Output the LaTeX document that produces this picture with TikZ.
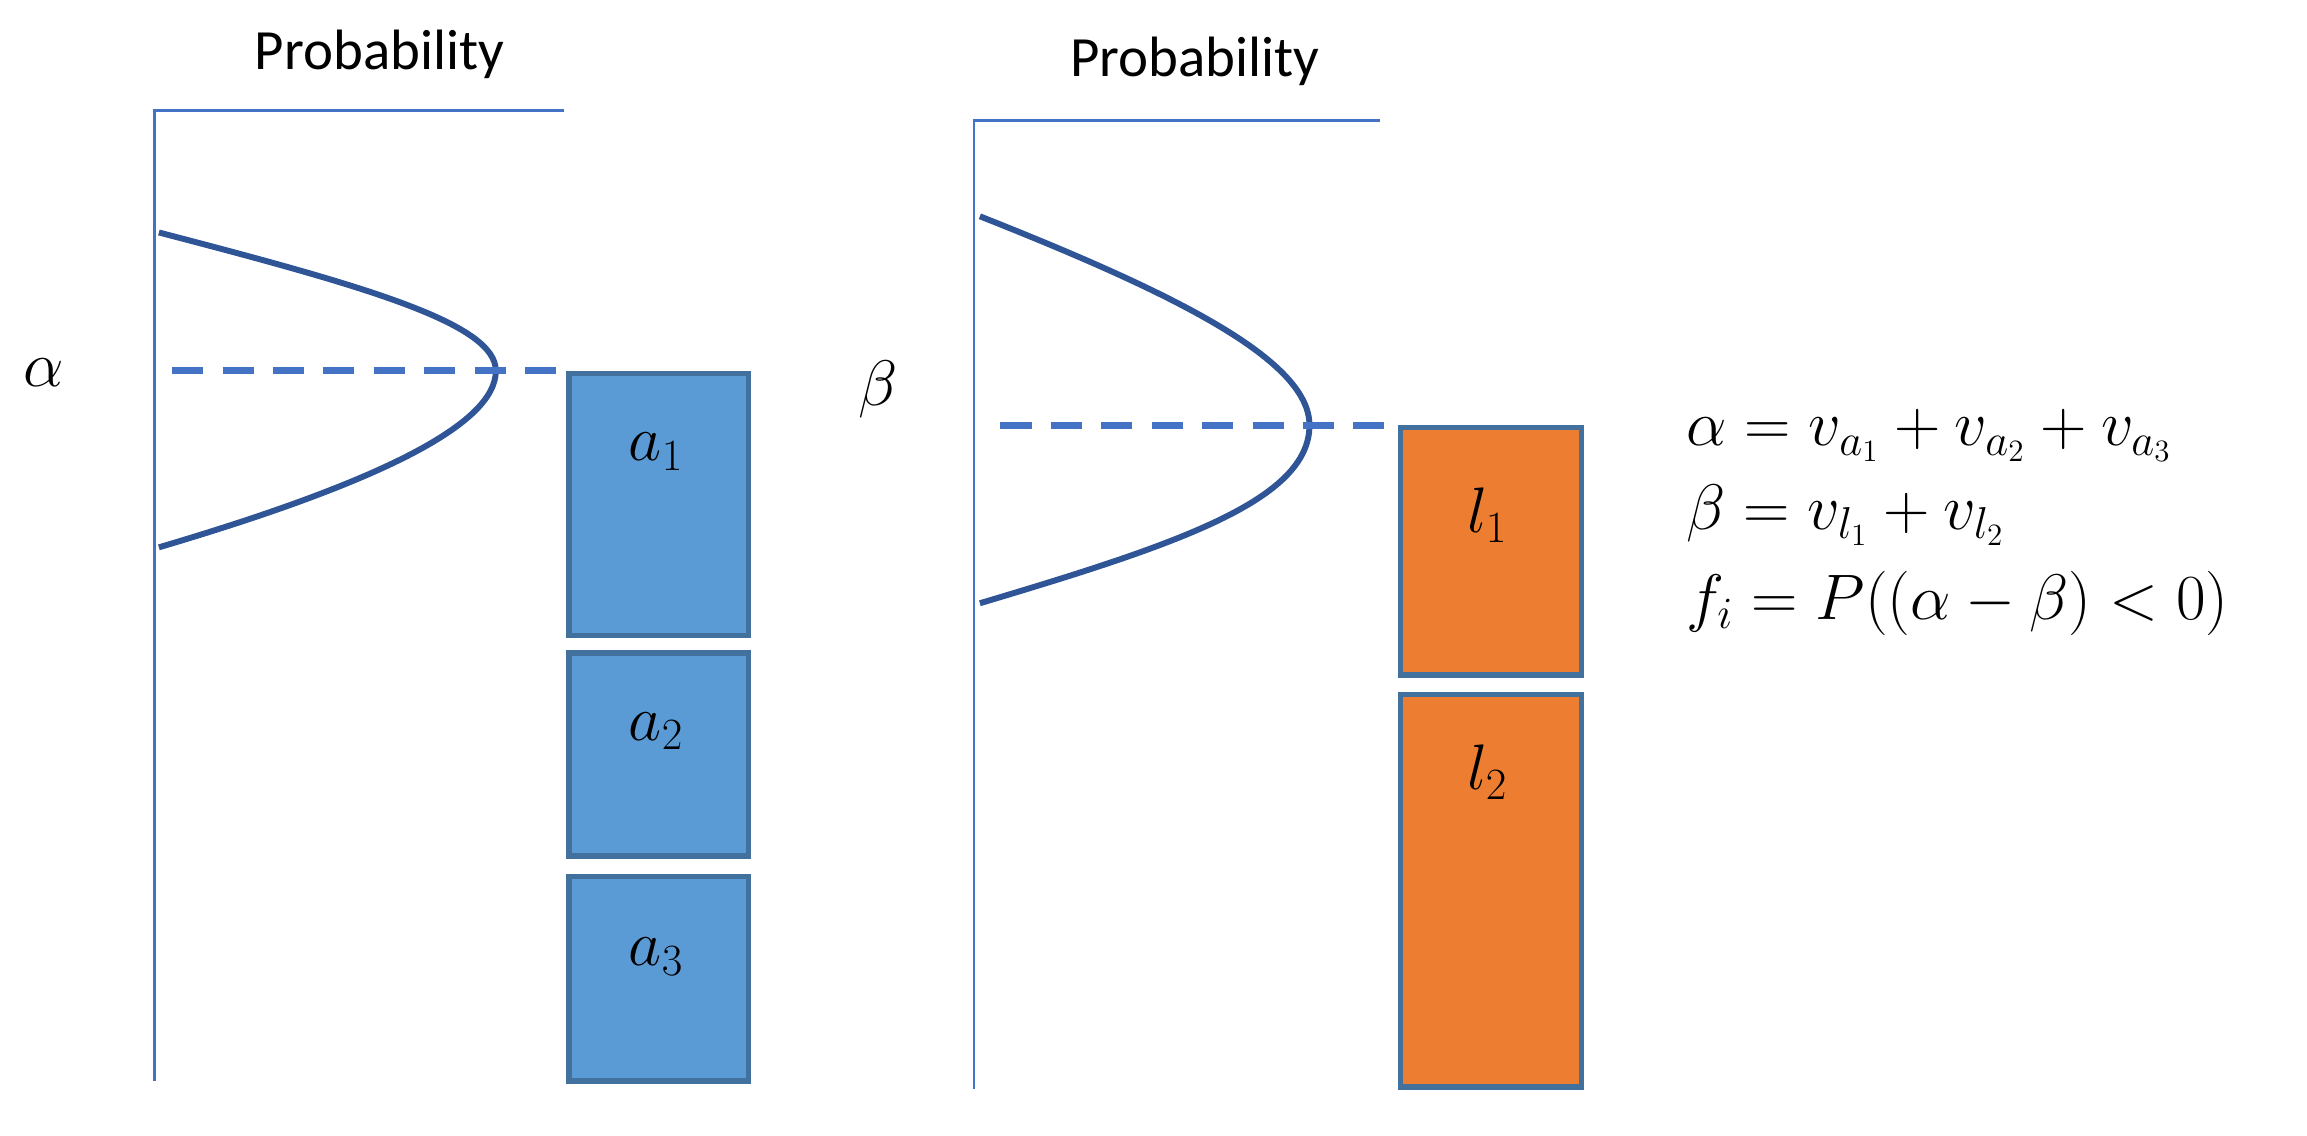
\documentclass[tikz,border=0pt]{standalone}
\usepackage{fontspec}
\setmainfont{Carlito}
\begin{document}
\begin{tikzpicture}[x=0.02cm,y=-0.02cm,
  ax/.style={draw=axc,line width=1.1pt},
  crv/.style={draw=crvc,line width=2.3pt},
  dsh/.style={draw=axc,line width=2.7pt,dash pattern=on 12pt off 7.5pt},
  bbox/.style={draw=bordc,line width=2pt,fill=bluef},
  obox/.style={draw=bordc,line width=2pt,fill=orangef},
  lbl/.style={font=\fontsize{24}{28}\selectfont},
  ttl/.style={font=\fontsize{22}{26}\selectfont}]
\definecolor{axc}{HTML}{4472C4}
\definecolor{crvc}{HTML}{2F5597}
\definecolor{bordc}{HTML}{41719C}
\definecolor{bluef}{HTML}{5B9BD5}
\definecolor{orangef}{HTML}{ED7D31}
\useasboundingbox (0,0) rectangle (1568,772);
% left
\node[ttl] (p1) at (258,37) {Probability};
\draw[ax] (105,735) -- (105,75) -- (383,75);
\draw[crv] (108,158) .. controls (250,195) and (337,220) .. (337,252) .. controls (337,290) and (250,330) .. (108,372);
\coordinate (d1s) at (117,252);
\coordinate (d1e) at (385,252);
\draw[dsh] (d1s) -- (d1e);
\node[bbox,minimum width=122*0.02cm,minimum height=178*0.02cm,anchor=north west] (a1) at (385,252) {};
\node[bbox,minimum width=122*0.02cm,minimum height=138*0.02cm,anchor=north west] (a2) at (385,442) {};
\node[bbox,minimum width=122*0.02cm,minimum height=139*0.02cm,anchor=north west] (a3) at (385,594) {};
\node[lbl] at (446,307) {$a_1$};
\node[lbl] at (446,497) {$a_2$};
\node[lbl] at (446,650) {$a_3$};
\node[lbl] (al) at (30,253) {$\alpha$};
% right
\node[ttl] (p2) at (812,42) {Probability};
\draw[ax] (662,740) -- (662,82) -- (938,82);
\draw[crv] (666,147) .. controls (800,200) and (890,245) .. (890,289) .. controls (890,340) and (800,370) .. (666,410);
\coordinate (d2s) at (680,289);
\coordinate (d2e) at (950,289);
\draw[dsh] (d2s) -- (d2e);
\node[obox,minimum width=123*0.02cm,minimum height=168*0.02cm,anchor=north west] (l1) at (950,289) {};
\node[obox,minimum width=123*0.02cm,minimum height=267*0.02cm,anchor=north west] (l2) at (950,470) {};
\node[lbl] at (1011,350) {$l_1$};
\node[lbl] at (1011,525) {$l_2$};
\node[lbl] (be) at (597,265) {$\beta$};
% equations
\node[lbl,anchor=west] (e1) at (1140,296) {$\alpha=v_{a_1}+v_{a_2}+v_{a_3}$};
\node[lbl,anchor=west] (e2) at (1140,350) {$\beta=v_{l_1}+v_{l_2}$};
\node[lbl,anchor=west] (e3) at (1140,410) {$f_i=P\big((\alpha-\beta)<0\big)$};
\end{tikzpicture}
\end{document}
